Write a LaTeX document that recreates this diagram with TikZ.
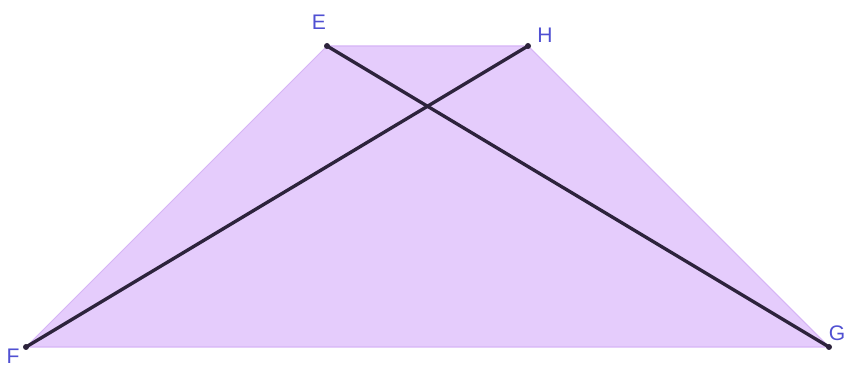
\documentclass[tikz,border=0pt]{standalone}
\usepackage{fontspec}
\setmainfont{Liberation Sans}
\definecolor{lilac}{RGB}{229,204,252}
\definecolor{lilacedge}{RGB}{214,180,246}
\definecolor{segdark}{RGB}{45,35,60}
\definecolor{ptlabel}{RGB}{80,80,210}

\begin{document}
\begin{tikzpicture}[x=0.02cm, y=-0.02cm, font=\fontsize{12}{12}\selectfont,
    seg/.style={line width=1.9pt, segdark, line cap=round},
    pt/.style={segdark},
    lbl/.style={ptlabel, inner sep=0pt}]
            \useasboundingbox (0,0) rectangle (845,367);

            % Vertices
            \coordinate (E) at (327,46);
            \coordinate (H) at (528,46);
            \coordinate (F) at (26,347);
            \coordinate (G) at (829,347);

            % Trapezoid
            \fill[lilac] (E) -- (H) -- (G) -- (F) -- cycle;
            \draw[lilacedge, line width=0.6pt] (E) -- (H) -- (G) -- (F) -- cycle;

            % Diagonals
            \draw[seg] (E) -- (G);
            \draw[seg] (F) -- (H);

            % Points and Labels
            \foreach \p in {E,H,F,G}
                \fill[pt] (\p) circle (3);
            \node[lbl] (labE) at (319,22) {E};
            \node[lbl] (labH) at (545,35) {H};
            \node[lbl] (labF) at (13,356) {F};
            \node[lbl] (labG) at (837,333) {G};
        \end{tikzpicture}
\end{document}
